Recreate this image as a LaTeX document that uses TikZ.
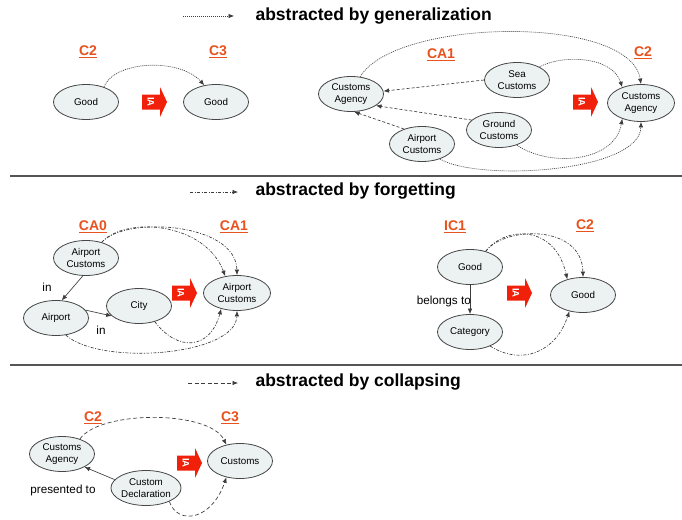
\documentclass[tikz,border=0pt]{standalone}
\usepackage{fontspec}
\setmainfont{Liberation Sans}
\usetikzlibrary{shapes.geometric,arrows.meta}
\definecolor{nodefill}{RGB}{236,242,242}
\definecolor{nodeline}{RGB}{70,70,70}
\definecolor{linegrey}{RGB}{60,60,60}
\definecolor{labelred}{RGB}{232,82,30}
\definecolor{iared}{RGB}{240,32,10}
\definecolor{sepgrey}{RGB}{85,85,85}
\tikzset{
  concept/.style={ellipse, draw=nodeline, fill=nodefill, line width=0.8pt,
    minimum width=65pt, minimum height=35pt, inner sep=0pt, align=center,
    font=\fontsize{9.8}{11.5}\selectfont},
  model/.style={font=\fontsize{14}{16}\selectfont\bfseries, text=labelred},
  heading/.style={anchor=west, font=\fontsize{17.5}{20}\selectfont\bfseries},
  rel/.style={font=\fontsize{11.7}{13}\selectfont},
  tip/.style={-{Latex[length=5.5pt,width=4.5pt]}},
  conn/.style={draw=linegrey, line width=0.65pt, tip},
  gen/.style={conn, dash pattern=on 1pt off 1pt},
  forget/.style={conn, dash pattern=on 3pt off 1.5pt on 1pt off 1.5pt},
  coll/.style={conn, dash pattern=on 4pt off 2.5pt},
  isa/.style={conn, dash pattern=on 3pt off 2pt},
  solidrel/.style={conn},
  sepline/.style={draw=sepgrey, line width=1.5pt},
  iaarrow/.pic={
    \fill[iared] (0,-7.5) -- (18,-7.5) -- (18,-15) -- (25,0) -- (18,15) -- (18,7.5) -- (0,7.5) -- cycle;
    \node[rotate=-90, text=white, inner sep=0pt, font=\fontsize{9.5}{10}\selectfont\bfseries] (-t) at (9,0) {IA};
  }
}
\begin{document}
\begin{tikzpicture}[x=1pt,y=-1pt]
\useasboundingbox (0,0) rectangle (682,519);
\fill[white] (0,0) rectangle (682,519);

% separators
\coordinate (s1a) at (10,176); \coordinate (s1b) at (682,176);
\coordinate (s2a) at (10,365); \coordinate (s2b) at (682,365);
\draw[sepline] (s1a) -- (s1b);
\draw[sepline] (s2a) -- (s2b);

% ---------- legend 1 ----------
\coordinate (lg1a) at (183,16); \coordinate (lg1b) at (234,16);
\draw[gen] (lg1a) -- (lg1b);
\node[heading] (h1) at (252,16) {abstracted by generalization};

% section 1 left
\node[model] (c2a) at (88,52) {\underline{C2}};
\node[model] (c3a) at (218,52) {\underline{C3}};
\node[concept] (g1) at (86,102) {Good};
\node[concept] (g2) at (216,102) {Good};
\pic (ia1) at (142,102) {iaarrow};
\draw[gen] (g1.40) .. controls (115,60) and (180,58) .. (g2.125);

% section 1 right
\node[model] (ca1a) at (441,55) {\underline{CA1}};
\node[model] (c2b) at (643,53) {\underline{C2}};
\node[concept] (ca) at (351,94) {Customs\\Agency};
\node[concept] (sea) at (517,80) {Sea\\Customs};
\node[concept] (gc) at (499,130) {Ground\\Customs};
\node[concept] (ac) at (422,144) {Airport\\Customs};
\node[concept, minimum width=67pt, minimum height=37pt] (cb) at (641,103) {Customs\\Agency};
\pic (ia2) at (573,102) {iaarrow};
\draw[isa] (sea.180) -- (ca.5);
\draw[isa] (gc.160) -- (ca.-25);
\draw[isa] (ac.140) -- (ca.-80);
\draw[gen] (ca.62) .. controls (395,18) and (630,14) .. (cb.90);
\draw[gen] (sea.30) .. controls (560,55) and (612,55) .. (cb.140);
\draw[gen] (gc.-40) .. controls (550,168) and (615,162) .. (cb.-140);
\draw[gen] (ac.-40) .. controls (480,182) and (640,172) .. (cb.-90);

% ---------- legend 2 ----------
\coordinate (lg2a) at (190,192); \coordinate (lg2b) at (238,192);
\draw[forget] (lg2a) -- (lg2b);
\node[heading] (h2) at (252,191) {abstracted by forgetting};

% section 2 left
\node[model] (ca0) at (93,227) {\underline{CA0}};
\node[model] (ca1b) at (234,227) {\underline{CA1}};
\node[concept] (acl) at (86,258) {Airport\\Customs};
\node[concept] (ap) at (56,318) {Airport};
\node[concept] (city) at (139,306) {City};
\node[concept, minimum width=67pt] (acr) at (237,293) {Airport\\Customs};
\pic (ia3) at (172,293) {iaarrow};
\draw[solidrel] (acl.-100) -- (ap.72);
\node[rel] (in1) at (47,287) {in};
\draw[solidrel] (ap.15) -- (city.200);
\node[rel] (in2) at (101,330) {in};
\draw[forget] (acl.45) .. controls (125,216) and (205,222) .. (acr.125);
\draw[forget] (acl.45) .. controls (125,216) and (236,222) .. (acr.90);
\draw[forget] (city.-45) .. controls (178,352) and (210,350) .. (acr.-135);
\draw[forget] (ap.-60) .. controls (100,366) and (236,356) .. (acr.-90);

% section 2 right
\node[model] (ic1) at (455,227) {\underline{IC1}};
\node[model] (c2c) at (585,226) {\underline{C2}};
\node[concept] (gl) at (470,267) {Good};
\node[concept] (cat) at (470,332) {Category};
\node[concept] (gr) at (583,295) {Good};
\pic (ia4) at (507,293) {iaarrow};
\draw[solidrel] (gl.south) -- (cat.north);
\node[rel, anchor=east, inner sep=0pt] (bel) at (471,301) {belongs to};
\draw[forget] (gl.45) .. controls (505,226) and (555,224) .. (gr.135);
\draw[forget] (gl.45) .. controls (505,226) and (582,224) .. (gr.90);
\draw[forget] (cat.-35) .. controls (522,366) and (556,352) .. (gr.-130);

% ---------- legend 3 ----------
\coordinate (lg3a) at (188,383); \coordinate (lg3b) at (238,383);
\draw[coll] (lg3a) -- (lg3b);
\node[heading] (h3) at (252,382) {abstracted by collapsing};

% section 3
\node[model] (c2d) at (93,418) {\underline{C2}};
\node[model] (c3d) at (230,418) {\underline{C3}};
\node[concept] (cag) at (62,454) {Customs\\Agency};
\node[concept] (cd) at (146,488) {Custom\\Declaration};
\node[concept] (cus) at (240,461) {Customs};
\pic (ia5) at (177,463) {iaarrow};
\draw[solidrel] (cd.165) -- (cag.-30);
\node[rel] (pres) at (63,490) {presented to};
\draw[coll] (cag.40) .. controls (100,410) and (210,410) .. (cus.130);
\draw[coll] (cd.-30) .. controls (178,526) and (212,520) .. (cus.-130);
\end{tikzpicture}
\end{document}
